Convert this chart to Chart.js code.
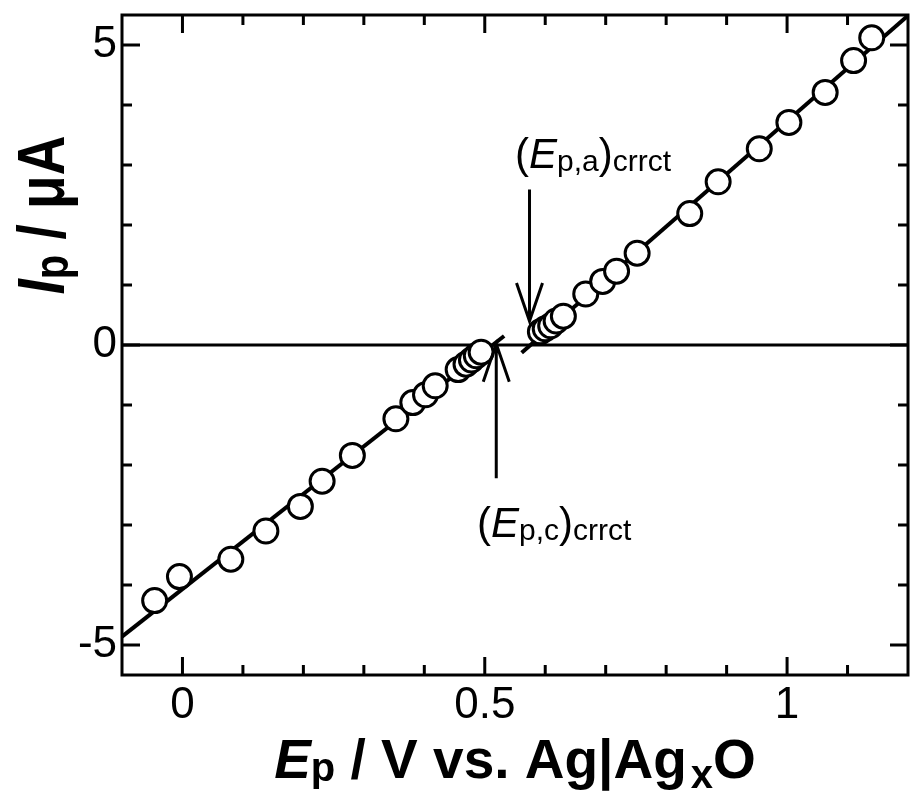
<!DOCTYPE html>
<html>
<head>
<meta charset="utf-8">
<script src="https://cdn.jsdelivr.net/npm/chart.js@4"></script>
<style>
  body { margin: 0; background: #fff; }
  #wrap { width: 923px; height: 799px; }
</style>
</head>
<body>
<div id="wrap"><canvas id="PeakChart" width="923" height="799"></canvas></div>
<script>
// peak potentials (V) and peak currents (uA)
var cathodicE = [-0.046, -0.005, 0.080, 0.138, 0.195, 0.231, 0.281, 0.353, 0.381, 0.402, 0.418, 0.456, 0.469, 0.478, 0.486, 0.494];
var cathodicI = [-4.26, -3.86, -3.57, -3.10, -2.69, -2.27, -1.84, -1.23, -0.96, -0.83, -0.68, -0.41, -0.32, -0.25, -0.18, -0.12];
var anodicE = [0.592, 0.600, 0.609, 0.618, 0.630, 0.667, 0.695, 0.718, 0.752, 0.839, 0.886, 0.954, 1.003, 1.063, 1.110, 1.140];
var anodicI = [0.22, 0.27, 0.32, 0.40, 0.48, 0.85, 1.06, 1.23, 1.53, 2.19, 2.72, 3.27, 3.71, 4.21, 4.74, 5.12];

// fitted lines
var cathodicFitE = [-0.1, 0.532];
var cathodicFitI = [-4.86, 0.15];
var anodicFitE = [0.561, 1.2];
var anodicFitI = [-0.13, 5.49];
var zeroE = [-0.1, 1.2];
var zeroI = [0, 0];

// axis ticks
var xTicks = [0, 0.5, 1];
var xMinor = [0.1, 0.2, 0.3, 0.4, 0.6, 0.7, 0.8, 0.9, 1.1];
var yTicks = [-5, 0, 5];
var yMinor = [-4, -3, -2, -1, 1, 2, 3, 4];

// annotation arrows: x, from y, to y (tip)
var anodicArrow = [0.574, 2.59, 0.40];
var cathodicArrow = [0.519, -2.22, 0.02];

function pts(xs, ys) {
    return xs.map(function(x, i) { return {x: x, y: ys[i]}; });
}

var FAM = '"Liberation Sans", Arial, sans-serif';

function drawRich(ctx, parts, x, y) {
    parts.forEach(function(p) {
        ctx.font = p.font;
        ctx.fillText(p.t, x + (p.dx || 0), y + (p.dy || 0));
        x += (p.dx || 0) + ctx.measureText(p.t).width;
    });
}
function richWidth(ctx, parts) {
    var w = 0;
    parts.forEach(function(p) {
        ctx.font = p.font;
        w += (p.dx || 0) + ctx.measureText(p.t).width;
    });
    return w;
}

// no extra label padding around the plot box
function noPad(s) {
    s.paddingLeft = 0; s.paddingRight = 0;
    s.paddingTop = 0; s.paddingBottom = 0;
}

var decor = {
    id: 'decor',
    afterDraw: function(chart) {
        var ctx = chart.ctx, a = chart.chartArea;
        var xs = chart.scales.x, ys = chart.scales.y;
        ctx.save();
        ctx.strokeStyle = '#000';
        ctx.fillStyle = '#000';
        ctx.lineWidth = 3;
        ctx.lineCap = 'butt';
        // frame
        ctx.strokeRect(a.left, a.top, a.right - a.left, a.bottom - a.top);
        // inward ticks on all four sides
        function tx(v, len) {
            var px = xs.getPixelForValue(v);
            ctx.beginPath();
            ctx.moveTo(px, a.bottom); ctx.lineTo(px, a.bottom - len);
            ctx.moveTo(px, a.top); ctx.lineTo(px, a.top + len);
            ctx.stroke();
        }
        function ty(v, len) {
            var py = ys.getPixelForValue(v);
            ctx.beginPath();
            ctx.moveTo(a.left, py); ctx.lineTo(a.left + len, py);
            ctx.moveTo(a.right, py); ctx.lineTo(a.right - len, py);
            ctx.stroke();
        }
        xTicks.forEach(function(v) { tx(v, 18); });
        xMinor.forEach(function(v) { tx(v, 10); });
        yTicks.forEach(function(v) { ty(v, 18); });
        yMinor.forEach(function(v) { ty(v, 10); });

        // arrows
        function arrow(spec) {
            var x = xs.getPixelForValue(spec[0]);
            var y0 = ys.getPixelForValue(spec[1]);
            var y1 = ys.getPixelForValue(spec[2]);
            var dir = y1 > y0 ? 1 : -1;
            ctx.beginPath();
            ctx.moveTo(x, y0); ctx.lineTo(x, y1);
            ctx.moveTo(x - 13, y1 - dir * 38); ctx.lineTo(x, y1); ctx.lineTo(x + 13, y1 - dir * 38);
            ctx.stroke();
        }
        arrow(anodicArrow);
        arrow(cathodicArrow);

        // arrow labels
        ctx.textBaseline = 'alphabetic';
        ctx.textAlign = 'left';
        var big = '42px ' + FAM, it = 'italic 42px ' + FAM, sm = '30px ' + FAM;
        drawRich(ctx, [
            {t: '(', font: big}, {t: 'E', font: it}, {t: 'p,a', font: sm, dy: 3},
            {t: ')', font: big}, {t: 'crrct', font: sm, dy: 3}
        ], 515, 168);
        drawRich(ctx, [
            {t: '(', font: big}, {t: 'E', font: it}, {t: 'p,c', font: sm, dy: 3},
            {t: ')', font: big}, {t: 'crrct', font: sm, dy: 3}
        ], 477, 537);

        // x axis title
        var bb = 'bold 55px ' + FAM, bi = 'italic bold 55px ' + FAM, bs = 'bold 40px ' + FAM;
        var xParts = [
            {t: 'E', font: bi}, {t: 'p', font: bs, dy: 3},
            {t: ' / V vs. Ag|Ag', font: bb}, {t: 'x', font: bs, dx: 4, dy: 10},
            {t: 'O', font: bb}
        ];
        var cx = (a.left + a.right) / 2;
        drawRich(ctx, xParts, cx - richWidth(ctx, xParts) / 2, 778);

        // y axis title (rotated)
        var yParts = [
            {t: 'I', font: bi}, {t: 'p', font: bs, dy: 3},
            {t: ' / \u03bcA', font: bb}
        ];
        ctx.translate(64, 215);
        ctx.rotate(-Math.PI / 2);
        ctx.scale(1, 1.2);
        drawRich(ctx, yParts, -richWidth(ctx, yParts) / 2, 0);
        ctx.restore();
    }
};

var lineStyle = {
    showLine: true,
    borderColor: '#000',
    borderWidth: 4,
    pointRadius: 0,
    fill: false,
    order: 2
};

var ctx = document.getElementById('PeakChart').getContext('2d');
var myPeakChart = new Chart(ctx, {
    type: 'scatter',
    data: {
        datasets: [{
            label: 'cathodic',
            data: pts(cathodicE, cathodicI),
            pointRadius: 12,
            pointBackgroundColor: '#fff',
            pointBorderColor: '#000',
            pointBorderWidth: 3,
            order: 0
        }, {
            label: 'anodic',
            data: pts(anodicE, anodicI),
            pointRadius: 12,
            pointBackgroundColor: '#fff',
            pointBorderColor: '#000',
            pointBorderWidth: 3,
            order: 0
        },
        Object.assign({label: 'cathodic fit', data: pts(cathodicFitE, cathodicFitI)}, lineStyle),
        Object.assign({label: 'anodic fit', data: pts(anodicFitE, anodicFitI)}, lineStyle),
        Object.assign({label: 'zero', data: pts(zeroE, zeroI)}, lineStyle, {borderWidth: 3})
        ]
    },
    options: {
        responsive: false,
        animation: false,
        layout: { padding: { left: 0, top: 13, right: 3, bottom: 0 } },
        plugins: {
            legend: { display: false },
            tooltip: { enabled: false }
        },
        scales: {
            x: {
                type: 'linear',
                min: -0.1,
                max: 1.2,
                afterBuildTicks: function(s) { s.ticks = xTicks.map(function(v) { return {value: v}; }); },
                afterFit: function(s) { s.height = 124; noPad(s); },
                grid: { display: false, drawTicks: false },
                border: { display: false },
                ticks: {
                    color: '#000',
                    padding: 4,
                    maxRotation: 0,
                    autoSkip: false,
                    font: { family: FAM, size: 44 },
                    callback: function(v) { return String(v); }
                }
            },
            y: {
                type: 'linear',
                min: -5.5,
                max: 5.5,
                afterBuildTicks: function(s) { s.ticks = yTicks.map(function(v) { return {value: v}; }); },
                afterFit: function(s) { s.width = 122; noPad(s); },
                grid: { display: false, drawTicks: false },
                border: { display: false },
                ticks: {
                    color: '#000',
                    padding: 5,
                    autoSkip: false,
                    font: { family: FAM, size: 44 },
                    callback: function(v) { return String(v); }
                }
            }
        }
    },
    plugins: [decor]
});
</script>
</body>
</html>
